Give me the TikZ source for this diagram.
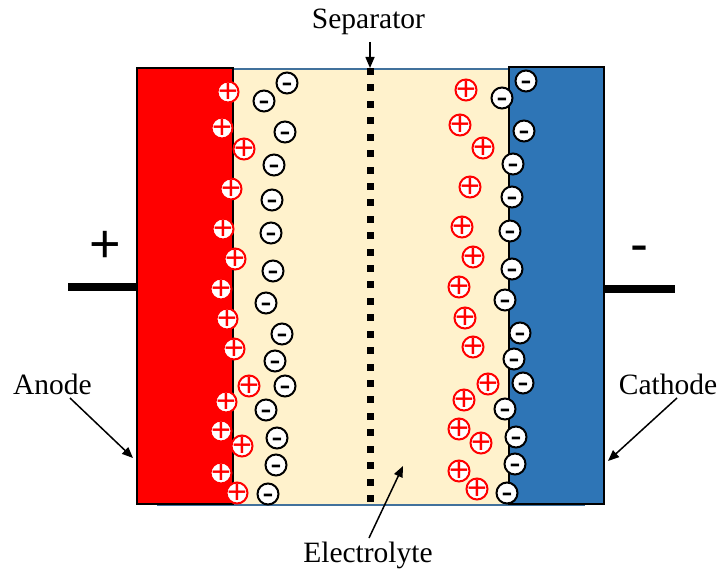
\documentclass[tikz,border=0pt]{standalone}
\usepackage{fontspec}
\setmainfont{Liberation Serif}
\newfontfamily\ionsans{Liberation Sans}
\usetikzlibrary{arrows.meta}
\definecolor{anodered}{HTML}{FF0000}
\definecolor{cathblue}{HTML}{2E75B6}
\definecolor{electro}{HTML}{FFF2CC}
\definecolor{elborder}{HTML}{41719C}
\tikzset{
  ionbase/.style={circle, fill=white, line width=2pt, minimum size=21pt, inner sep=0pt},
  signlbl/.style={inner sep=0pt, font=\ionsans\fontsize{34}{34}\selectfont, text height=20.7pt, text depth=0pt},
  pion/.style={ionbase, draw=anodered, label={[signlbl, text=anodered]center:+}},
  nion/.style={ionbase, draw=black, label={[signlbl]center:-}},
  electrode/.style={rectangle, draw=black, line width=2.5pt, inner sep=0pt},
  termsign/.style={inner sep=0pt, font=\ionsans\fontsize{54}{54}\selectfont, text height=32.8pt, text depth=0pt},
  lbl/.style={inner sep=0pt, anchor=base, font=\fontsize{29.5}{30}\selectfont},
  pointer/.style={line width=1.5pt, -{Triangle[length=11pt,width=9pt]}},
  termline/.style={line width=8pt}
}
\begin{document}
\begin{tikzpicture}[x=1pt,y=-1pt]
\useasboundingbox (0,0) rectangle (720,572);
% electrolyte
\node[rectangle, fill=electro, draw=elborder, line width=1.5pt, minimum width=426pt, minimum height=436pt, inner sep=0pt] (electrolyte) at (371,287) {};
% electrodes
\node[electrode, fill=anodered, minimum width=96pt, minimum height=436pt] (anode) at (185,286) {};
\node[electrode, fill=cathblue, minimum width=95pt, minimum height=437pt] (cathode) at (556.5,285.5) {};
% terminals
\coordinate (tl) at (68,287);
\coordinate (tr) at (675,289);
\draw[termline] (anode.west |- tl) -- (tl);
\draw[termline] (cathode.east |- tr) -- (tr);
\node[termsign] (plusterm) at (105,246) {+};
\node[termsign] (minusterm) at (639,245.6) {-};
% separator
\foreach \k in {0,...,26}{
  \fill (366.5,68+\k*16.42) rectangle ++(7,7);
}
% ions
\foreach \p [count=\i] in {(228,92),(222,128),(244,149),(231,189),(223,229),(235,259),(221,289),(227,319),(234,349),(249,386),(226,402),(221,431),(242,446),(221,473),(237,493)}
  \node[pion] (lp\i) at \p {};
\foreach \p [count=\i] in {(287,83),(264,101),(285,132),(274,165),(272,200),(271,233),(273,271),(266,303),(282,334),(275,361),(285,386),(266,410),(277,438),(276,465),(268,494)}
  \node[nion] (ln\i) at \p {};
\foreach \p [count=\i] in {(466,90),(460,125),(483,148),(470,187),(462,227),(473,257),(459,287),(465,318),(473,347),(488,384),(464,400),(459,429),(481,443),(459,471),(477,489)}
  \node[pion] (rp\i) at \p {};
\foreach \p [count=\i] in {(526,81),(502,98),(524,131),(513,164),(512,197),(510,231),(512,269),(505,300),(520,333),(514,359),(523,383),(505,409),(516,437),(515,464),(507,493)}
  \node[nion] (rn\i) at \p {};
% labels
\node[lbl] (seplbl) at (368.5,28.5) {Separator};
\node[lbl] (anlbl) at (52.5,394) {Anode};
\node[lbl] (catlbl) at (668,394) {Cathode};
\node[lbl] (ellbl) at (368,562) {Electrolyte};
% arrows
\coordinate (sepS) at (370,42);
\coordinate (sepE) at (370,68);
\coordinate (anS) at (70,398);
\coordinate (anE) at (133,458);
\coordinate (caS) at (677,398);
\coordinate (caE) at (608,461);
\coordinate (elS) at (369,538);
\coordinate (elE) at (403,466);
\draw[pointer] (sepS) -- (sepE);
\draw[pointer] (anS) -- (anE);
\draw[pointer] (caS) -- (caE);
\draw[pointer] (elS) -- (elE);
\end{tikzpicture}
\end{document}
